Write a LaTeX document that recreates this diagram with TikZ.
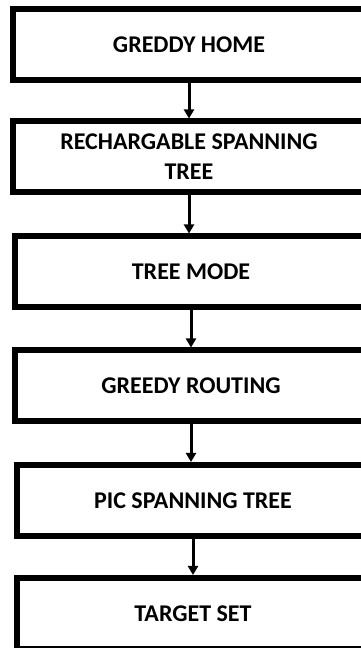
\documentclass[tikz,border=0pt]{standalone}
\usepackage{fontspec}
\setmainfont{Carlito}
\usetikzlibrary{arrows.meta}

\begin{document}
\begin{tikzpicture}[
    x=1pt, y=1pt,
    >={Triangle[width=10pt,length=9pt]},
    stagebox/.style={draw=black, line width=6pt, fill=white, rectangle,
        minimum width=352pt, minimum height=71pt, inner sep=0pt,
        align=center, font=\bfseries\fontsize{24}{30}\selectfont},
    flowline/.style={->, line width=3pt, black}
]

    % Frame of the page (boxes run past the right edge)
    \useasboundingbox (0,0) rectangle (361,648);
    \clip (0,0) rectangle (361,648);

    % Stages
    \node[stagebox] (home)     at (189,603.5) {GREDDY HOME};
    \node[stagebox] (recharge) at (189,491)   {RECHARGABLE SPANNING\\TREE};
    \node[stagebox] (treemode) at (191,376)   {TREE MODE};
    \node[stagebox] (routing)  at (191,262)   {GREEDY ROUTING};
    \node[stagebox] (pictree)  at (193,147.5) {PIC SPANNING TREE};
    \node[stagebox] (target)   at (193,34.5)  {TARGET SET};

    % Flow arrows
    \draw[flowline] (home.south)     -- (home.south |- recharge.north);
    \draw[flowline] (recharge.south) -- (recharge.south |- treemode.north);
    \draw[flowline] (treemode.south) -- (treemode.south |- routing.north);
    \draw[flowline] (routing.south)  -- (routing.south |- pictree.north);
    \draw[flowline] (pictree.south)  -- (pictree.south |- target.north);

\end{tikzpicture}
\end{document}
